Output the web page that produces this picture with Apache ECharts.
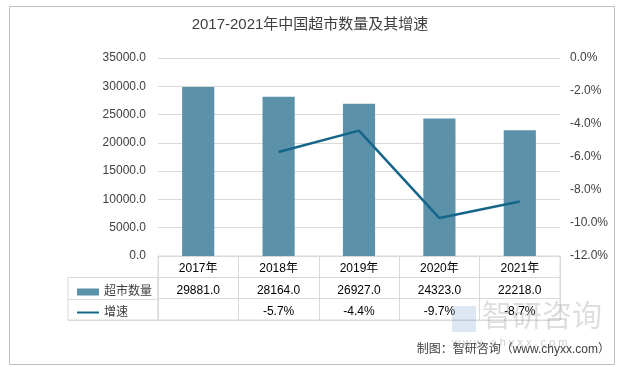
<!DOCTYPE html>
<html><head><meta charset="utf-8">
<script src="https://cdn.jsdelivr.net/npm/echarts@6/dist/echarts.min.js"></script>
<style>html,body{margin:0;padding:0;background:#fff}#c{width:620px;height:367px}</style>
</head><body><div id="c"></div>
<script>
const categories = ['2017年','2018年','2019年','2020年','2021年'];
const storeCounts = [29881, 28164, 26927, 24323, 22218];
const growthRates = [null, -5.7, -4.4, -9.7, -8.7];
const leftTicks = {min: 0, max: 35000, interval: 5000};
const rightTicks = {min: -12, max: 0, interval: 2};
const seriesNames = ['超市数量', '增速'];
const titleText = '2017-2021年中国超市数量及其增速';
const sourceText = '制图：智研咨询（www.chyxx.com）';

const FONT = '"Liberation Sans","Noto Sans CJK SC",sans-serif';
const barColor = '#5b92a9';
const lineColor = '#15668a';
const gridColor = '#d9d9d9';
const textColor = '#404040';

const chart = echarts.init(document.getElementById('c'), null, {renderer: 'canvas'});
chart.setOption({
  animation: false,
  textStyle: {fontFamily: FONT},
  title: {text: titleText, left: 'center', top: 12,
    textStyle: {fontSize: 15, fontWeight: 'normal', color: textColor, fontFamily: FONT}},
  legend: {
    left: 72, top: 281, orient: 'vertical', itemGap: 8.5, itemWidth: 22, itemHeight: 13,
    textStyle: {fontSize: 12, color: textColor, fontFamily: FONT},
    data: [
      {name: seriesNames[0], icon: 'path://M0,3 L22,3 L22,10 L0,10 Z'},
      {name: seriesNames[1], icon: 'path://M0,5.5 L22,5.5 L22,7.5 L0,7.5 Z'}
    ]
  },
  grid: [
    {left: 158, top: 58, width: 402, height: 198},
    {left: 158, top: 256, width: 402, height: 64, show: true, borderColor: gridColor, borderWidth: 1},
    {left: 68, top: 277.5, width: 90, height: 42.5, show: true, borderColor: gridColor, borderWidth: 1}
  ],
  xAxis: [
    {type: 'category', gridIndex: 0, data: categories,
      axisLine: {show: false}, axisTick: {show: false},
      axisLabel: {margin: 2, fontSize: 12, color: '#000', lineHeight: 21.5,
        formatter: function (v, i) {
          const g = growthRates[i] == null ? ' ' : growthRates[i].toFixed(1) + '%';
          return v + '\n' + storeCounts[i].toFixed(1) + '\n' + g;
        }}},
    {type: 'category', gridIndex: 1, data: categories, boundaryGap: true,
      axisLine: {show: false}, axisTick: {show: false}, axisLabel: {show: false},
      splitLine: {show: true, lineStyle: {color: gridColor}}},
    {type: 'category', gridIndex: 2, data: [''],
      axisLine: {show: false}, axisTick: {show: false}, axisLabel: {show: false}}
  ],
  yAxis: [
    {type: 'value', gridIndex: 0, min: leftTicks.min, max: leftTicks.max, interval: leftTicks.interval,
      axisLine: {show: false}, axisTick: {show: false},
      axisLabel: {margin: 12, fontSize: 12, color: textColor, formatter: v => v.toFixed(1)},
      splitLine: {lineStyle: {color: gridColor}}},
    {type: 'value', gridIndex: 0, position: 'right', min: rightTicks.min, max: rightTicks.max, interval: rightTicks.interval,
      axisLine: {show: false}, axisTick: {show: false},
      axisLabel: {margin: 10, fontSize: 12, color: textColor, formatter: v => v.toFixed(1) + '%'},
      splitLine: {show: false}},
    {type: 'category', gridIndex: 1, data: ['a','b','c'],
      axisLine: {show: false}, axisTick: {show: false}, axisLabel: {show: false},
      splitLine: {show: true, lineStyle: {color: gridColor}}},
    {type: 'category', gridIndex: 2, data: ['a','b'],
      axisLine: {show: false}, axisTick: {show: false}, axisLabel: {show: false},
      splitLine: {show: true, lineStyle: {color: gridColor}}}
  ],
  series: [
    {name: seriesNames[0], type: 'bar', xAxisIndex: 0, yAxisIndex: 0, data: storeCounts,
      barWidth: '40%', itemStyle: {color: barColor}},
    {name: seriesNames[1], type: 'line', xAxisIndex: 0, yAxisIndex: 1, data: growthRates,
      symbol: 'none', lineStyle: {color: lineColor, width: 2.5}, itemStyle: {color: lineColor}}
  ],
  graphic: [
    {type: 'rect', left: 7, top: 4, shape: {width: 605, height: 358},
      style: {fill: 'none', stroke: '#bfbfbf', lineWidth: 1}, silent: true, z: -1},
    {type: 'text', left: 482, top: 303, z: 100,
      style: {text: '智研咨询', fontSize: 30, fill: 'rgba(160,160,160,0.35)', fontFamily: FONT}},
    {type: 'rect', left: 452, top: 306, shape: {width: 24, height: 26},
      style: {fill: 'rgba(120,160,200,0.25)'}, z: 100},
    {type: 'text', left: 452, top: 337, z: 100,
      style: {text: 'w w w . c h y x x . c o m', fontSize: 11, fill: 'rgba(160,160,160,0.5)', fontFamily: FONT}},
    {type: 'text', right: 10, top: 344, z: 101,
      style: {text: sourceText, fontSize: 12, fill: textColor, fontFamily: FONT}}
  ]
});
</script></body></html>
